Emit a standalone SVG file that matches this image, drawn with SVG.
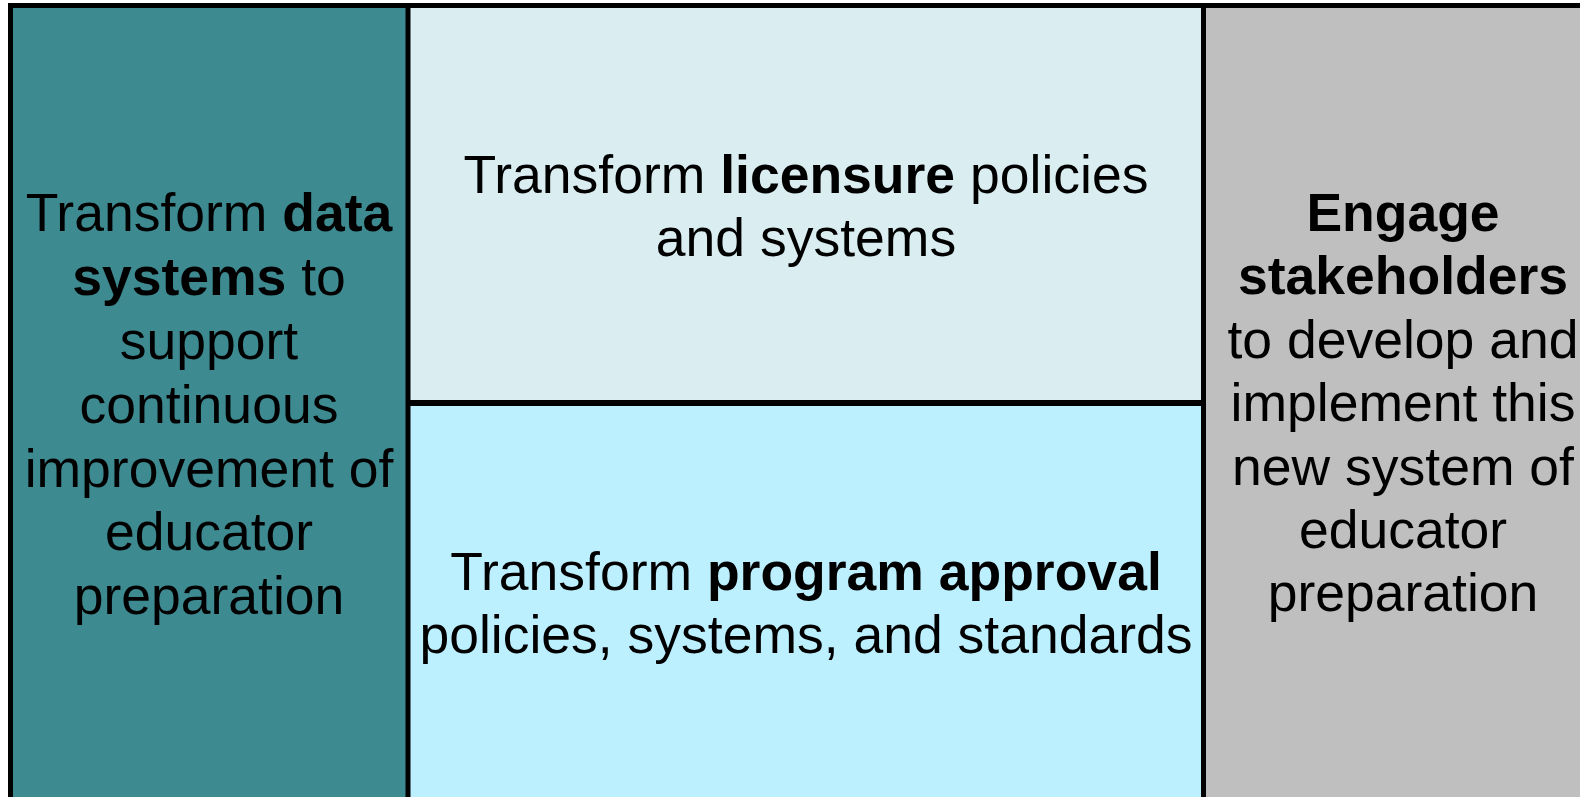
<svg xmlns="http://www.w3.org/2000/svg" width="1580" height="797" viewBox="0 0 1580 797">
<style>
text{font-family:"Liberation Sans",Arial,sans-serif;font-size:53.5px;fill:#000;text-anchor:middle}
.b{font-weight:bold}
.line{stroke:#000;stroke-width:5}
</style>
<rect width="1580" height="797" fill="#fff"/>
<g id="data-systems">
<rect x="10" y="5" width="398" height="792" fill="#3D8A91"/>
<text x="209" y="231">Transform <tspan class="b">data</tspan></text>
<text x="209" y="295"><tspan class="b">systems</tspan> to</text>
<text x="209" y="359">support</text>
<text x="209" y="423">continuous</text>
<text x="209" y="487">improvement of</text>
<text x="209" y="550">educator</text>
<text x="209" y="614">preparation</text>
</g>
<g id="licensure">
<rect x="408" y="5" width="795" height="398" fill="#DAEDF0"/>
<text x="806" y="193">Transform <tspan class="b">licensure</tspan> policies</text>
<text x="806" y="256">and systems</text>
</g>
<g id="program-approval">
<rect x="408" y="403" width="795" height="394" fill="#BDF0FF"/>
<text x="806" y="590">Transform <tspan class="b">program approval</tspan></text>
<text x="806" y="653">policies, systems, and standards</text>
</g>
<g id="stakeholders">
<rect x="1203" y="5" width="377" height="792" fill="#BFBFBF"/>
<text x="1403" y="231" class="b">Engage</text>
<text x="1403" y="294" class="b">stakeholders</text>
<text x="1403" y="358">to develop and</text>
<text x="1403" y="421">implement this</text>
<text x="1403" y="485">new system of</text>
<text x="1403" y="548">educator</text>
<text x="1403" y="611">preparation</text>
</g>
<g id="connectors">
<line class="line" x1="8" y1="5.5" x2="1580" y2="5.5"/>
<line class="line" x1="10.5" y1="3" x2="10.5" y2="797"/>
<line class="line" x1="408" y1="3" x2="408" y2="797"/>
<line class="line" x1="1203.5" y1="3" x2="1203.5" y2="797"/>
<line class="line" x1="408" y1="403" x2="1203" y2="403" style="stroke-width:6"/>
</g>
</svg>
